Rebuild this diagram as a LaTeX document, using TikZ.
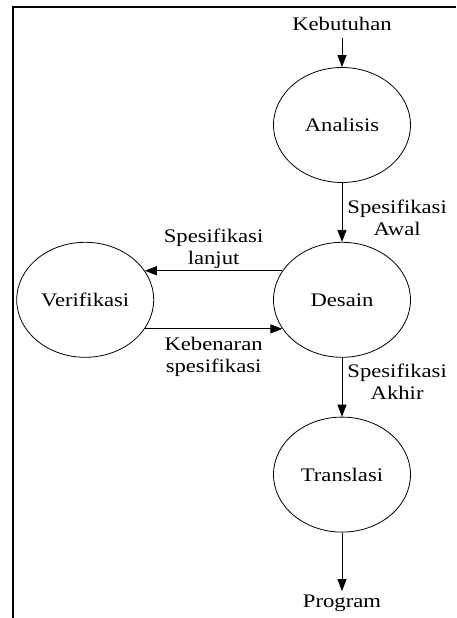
\documentclass[tikz,border=0pt]{standalone}
\usepackage{fontspec}
\setmainfont{Liberation Serif}[FakeStretch=1.18]
\usetikzlibrary{arrows.meta,positioning,shapes.geometric}

\begin{document}
\begin{tikzpicture}[x=1pt, y=1pt, node distance=59pt,
    every node/.style={font=\fontsize{19.2}{22}\selectfont, align=center},
    proses/.style={draw, ellipse, line width=0.8pt, minimum width=137pt, minimum height=115pt, inner sep=0pt},
    lbl/.style={inner sep=2pt},
    alur/.style={-{Triangle[length=12pt, width=9pt]}, line width=0.8pt}]
    \useasboundingbox (0,0) rectangle (456,-618);
    \draw[line width=2pt] (456,-7) -- (13,-7) -- (13,-618);
    \node[proses] (ana) at (342,-125) {Analisis};
    \node[proses, below=of ana] (des) {Desain};
    \node[proses, left=119pt of des] (ver) {Verifikasi};
    \node[proses, below=of des] (tra) {Translasi};
    \node[inner sep=7pt] (keb) at (342,-24) {Kebutuhan};
    \node (prog) at (342,-603) {Program};
    \draw[alur] (keb) -- (ana);
    \draw[alur] (ana) -- node[lbl, right=3pt, yshift=-5pt] {Spesifikasi\\Awal} (des);
    \draw[alur] (des.154) -- node[lbl, above] {Spesifikasi\\lanjut} (ver.26);
    \draw[alur] (ver.-26) -- node[lbl, below, yshift=-6pt] {Kebenaran\\spesifikasi} (des.206);
    \draw[alur] (des) -- node[lbl, right=3pt, yshift=5pt] {Spesifikasi\\Akhir} (tra);
    \draw[alur] (tra) -- (prog);
  \end{tikzpicture}
\end{document}
